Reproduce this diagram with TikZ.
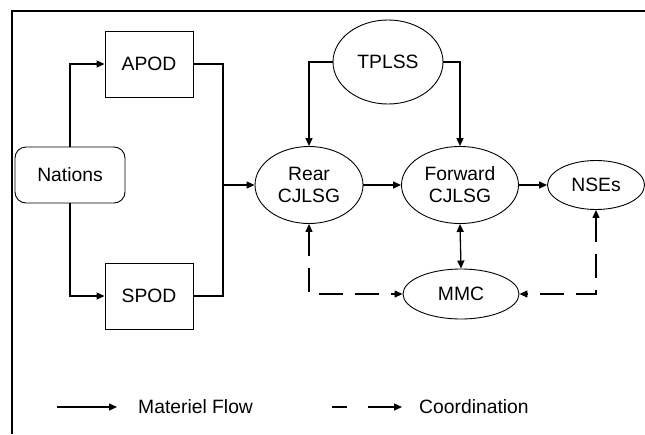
\documentclass[tikz,border=0pt]{standalone}
\usepackage{fontspec}
\setmainfont{Liberation Sans}
\usetikzlibrary{shapes.geometric,arrows.meta}
\begin{document}
\begin{tikzpicture}[x=1pt,y=-1pt,
  every node/.style={font=\fontsize{19.3}{22}\selectfont},
  boxnode/.style={draw, line width=0.9pt, inner sep=0pt, minimum width=88pt, minimum height=66pt},
  roundnode/.style={draw, line width=0.9pt, rounded corners=11pt, inner sep=0pt, minimum width=110pt, minimum height=56pt},
  ellnode/.style={draw, ellipse, line width=0.9pt, inner sep=0pt, align=center},
  flow/.style={line width=1.3pt, -{Triangle[length=8pt,width=7pt]}},
  flowplain/.style={line width=1.3pt},
  coordline/.style={line width=1.3pt, dash pattern=on 24pt off 12pt},
  tip/.style={Triangle[length=8pt,width=7pt]}
]
\useasboundingbox (0,0) rectangle (645,434);
\draw[line width=2.6pt] (12,434) -- (12,11) -- (645,11);

\node[boxnode] (apod) at (149,64) {APOD};
\node[boxnode] (spod) at (149,296) {SPOD};
\node[roundnode] (nations) at (70,175) {Nations};
\node[ellnode, minimum width=108pt, minimum height=77pt] (rear) at (309,185) {Rear\\CJLSG};
\node[ellnode, minimum width=110pt, minimum height=84pt] (tplss) at (388,62) {TPLSS};
\node[ellnode, minimum width=117pt, minimum height=77pt] (fwd) at (460,185) {Forward\\CJLSG};
\node[ellnode, minimum width=97pt, minimum height=49pt] (nses) at (596,185) {NSEs};
\node[ellnode, minimum width=116pt, minimum height=50pt] (mmc) at (461,294) {MMC};

\coordinate (join) at (223,185);
\draw[flow] (nations.north) |- (apod.west);
\draw[flow] (nations.south) |- (spod.west);
\draw[flowplain] (apod.east) -| (join);
\draw[flowplain] (spod.east) -| (join);
\draw[flow] (join) -- (rear.west);
\draw[flow] (tplss.west) -| (rear.north);
\draw[flow] (tplss.east) -| (fwd.north);
\draw[flow] (rear.east) -- (fwd.west);
\draw[flow] (fwd.east) -- (nses.west);
\draw[line width=1.3pt, {Triangle[length=8pt,width=7pt]}-{Triangle[length=8pt,width=7pt]}] (fwd.south) -- (mmc.north);
\draw[coordline, {Triangle[length=8pt,width=7pt]}-{Triangle[length=8pt,width=7pt]}] (rear.south) |- (mmc.west);
\draw[coordline, {Triangle[length=8pt,width=7pt]}-{Triangle[length=8pt,width=7pt]}] (nses.south) |- (mmc.east);

\coordinate (l1) at (57,407);
\coordinate (l2) at (117,407);
\coordinate (l3) at (332,407);
\coordinate (l4) at (402,407);
\draw[flow] (l1) -- (l2);
\node[anchor=west, inner sep=0pt] (lt1) at (138,407) {Materiel Flow};
\draw[line width=1.3pt, dash pattern=on 15pt off 21pt on 40pt, -{Triangle[length=8pt,width=7pt]}] (l3) -- (l4);
\node[anchor=west, inner sep=0pt] (lt2) at (419,407) {Coordination};
\end{tikzpicture}
\end{document}
